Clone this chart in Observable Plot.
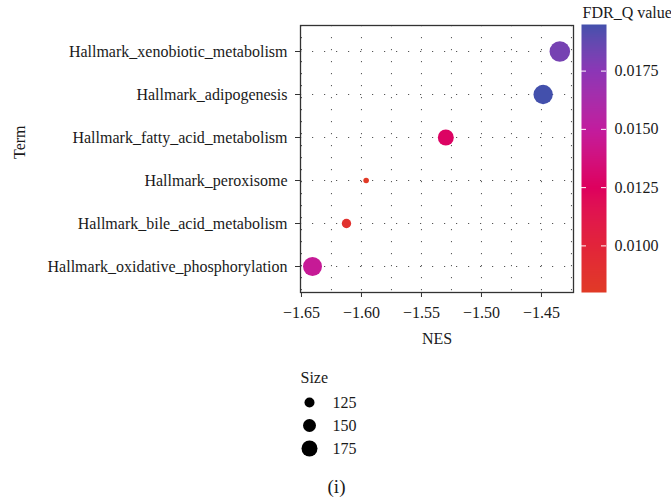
<!DOCTYPE html>
<html>
<head>
<meta charset="utf-8">
<script src="https://cdn.jsdelivr.net/npm/d3@7"></script>
<script src="https://cdn.jsdelivr.net/npm/@observablehq/plot@0.6"></script>
<style>
  html, body { margin: 0; padding: 0; background: #fff; }
  #wrap { position: relative; width: 671px; height: 498px; overflow: hidden; background: #fff; }
  #wrap > svg, #wrap > div { position: absolute; }
</style>
</head>
<body>
<div id="wrap"></div>
<script>
// ---- data ----
const terms = [
  "Hallmark_xenobiotic_metabolism",
  "Hallmark_adipogenesis",
  "Hallmark_fatty_acid_metabolism",
  "Hallmark_peroxisome",
  "Hallmark_bile_acid_metabolism",
  "Hallmark_oxidative_phosphorylation"
];
const nes = [-1.4347, -1.4486, -1.5297, -1.5961, -1.6125, -1.6408];
const fdrQ = [0.0182, 0.0195, 0.0127, 0.0080, 0.0088, 0.0147];
const setSize = [213, 203, 175, 88, 120, 200];

const xTicks = [-1.65, -1.60, -1.55, -1.50, -1.45];
const xGrid = [-1.65, -1.625, -1.60, -1.575, -1.55, -1.525, -1.50, -1.475, -1.45, -1.425];
const colorTicks = [0.0100, 0.0125, 0.0150, 0.0175];
const sizeLegend = [125, 150, 175];

// colour ramp stops (FDR value -> colour)
const colorStops = [0.0080, 0.0100, 0.0125, 0.0150, 0.0175, 0.0195];
const colorStopColors = ["#E13A26", "#E2243A", "#DE005E", "#C21C9E", "#8C36B6", "#4350AC"];

const data = terms.map((t, i) => ({term: t, nes: nes[i], fdr: fdrQ[i], size: setSize[i]}));

const FONT = "'Liberation Serif', 'DejaVu Serif', serif";
const FS = "16px";
const rScale = {type: "linear", domain: [100, 200], range: [3.5, 9.5]};
const colorScale = {type: "linear", domain: colorStops, range: colorStopColors, interpolate: "lab"};

const wrap = document.getElementById("wrap");

// ---- main panel ----
const main = Plot.plot({
  width: 671,
  height: 350,
  marginLeft: 300,
  marginRight: 98,
  marginTop: 25,
  marginBottom: 58,
  style: {fontFamily: FONT, fontSize: FS, color: "#1a1a1a", background: "transparent"},
  x: {domain: [-1.6508, -1.4233]},
  y: {type: "point", domain: terms, padding: 0.6},
  r: rScale,
  color: colorScale,
  marks: [
    Plot.ruleX(xGrid, {x: d => d, stroke: "#555", strokeWidth: 1, strokeDasharray: "1.2,10.8"}),
    Plot.ruleY(terms, {y: d => d, stroke: "#555", strokeWidth: 1, strokeDasharray: "1.2,10.8"}),
    Plot.dot(data, {x: "nes", y: "term", r: "size", fill: "fdr", stroke: null}),
    Plot.frame({stroke: "#333", strokeWidth: 1.3}),
    Plot.axisX({ticks: xTicks, tickSize: 5, tickPadding: 9, tickFormat: d3.format(".2f"), label: null, stroke: "#333"}),
    Plot.axisY({tickSize: 5, tickPadding: 8, label: null, stroke: "#333"}),
    Plot.text(["NES"], {frameAnchor: "bottom", dy: 46, lineAnchor: "middle", fill: "#1a1a1a"}),
    Plot.text(["Term"], {frameAnchor: "left", dx: -281, rotate: -90, fill: "#1a1a1a"})
  ]
});
main.style.left = "0px";
main.style.top = "0px";
wrap.appendChild(main);

// ---- colour bar ----
const cbar = Plot.plot({
  width: 101,
  height: 300,
  marginLeft: 11,
  marginRight: 65,
  marginTop: 24,
  marginBottom: 8,
  style: {fontFamily: FONT, fontSize: FS, color: "#1a1a1a", background: "transparent", overflow: "visible"},
  x: {domain: [0, 1], axis: null},
  y: {domain: [colorStops[0], colorStops[colorStops.length - 1]], axis: null},
  color: colorScale,
  marks: [
    Plot.raster({fill: (x, y) => y, x1: 0, x2: 1, y1: colorStops[0], y2: colorStops[colorStops.length - 1], width: 1, height: 268, imageRendering: "auto"}),
    Plot.ruleY(colorTicks, {y: d => d, x1: 0, x2: 0.2, stroke: "white", strokeWidth: 1}),
    Plot.ruleY(colorTicks, {y: d => d, x1: 0.8, x2: 1, stroke: "white", strokeWidth: 1}),
    Plot.axisY({anchor: "right", ticks: colorTicks, tickSize: 0, tickPadding: 8, tickFormat: d3.format(".4f"), label: null}),
    Plot.text(["FDR_Q value"], {frameAnchor: "top-left", dx: 1, dy: -12, textAnchor: "start", lineAnchor: "middle", fill: "#1a1a1a"})
  ]
});
cbar.style.left = "570px";
cbar.style.top = "0px";
wrap.appendChild(cbar);

// ---- size legend + caption ----
const sleg = Plot.plot({
  width: 100,
  height: 136,
  margin: 0,
  style: {fontFamily: FONT, fontSize: FS, color: "#1a1a1a", background: "transparent", overflow: "visible"},
  x: {type: "linear", domain: [0, 1], range: [19, 42], axis: null},
  y: {type: "point", domain: sizeLegend, range: [39, 86], padding: 0, axis: null},
  r: rScale,
  marks: [
    Plot.dot(sizeLegend, {x: () => 0, y: d => d, r: d => d, fill: "black", stroke: null}),
    Plot.text(sizeLegend, {x: () => 1, y: d => d, text: d => String(d), textAnchor: "start", fill: "#1a1a1a"}),
    Plot.text(["Size"], {frameAnchor: "top-left", dx: 10, dy: 15, textAnchor: "start", lineAnchor: "middle", fill: "#1a1a1a"}),
    Plot.text(["(i)"], {frameAnchor: "top-left", dx: 46, dy: 124, textAnchor: "middle", lineAnchor: "middle", fontSize: 19, fill: "#1a1a1a"})
  ]
});
sleg.style.left = "290px";
sleg.style.top = "362px";
wrap.appendChild(sleg);
</script>
</body>
</html>
